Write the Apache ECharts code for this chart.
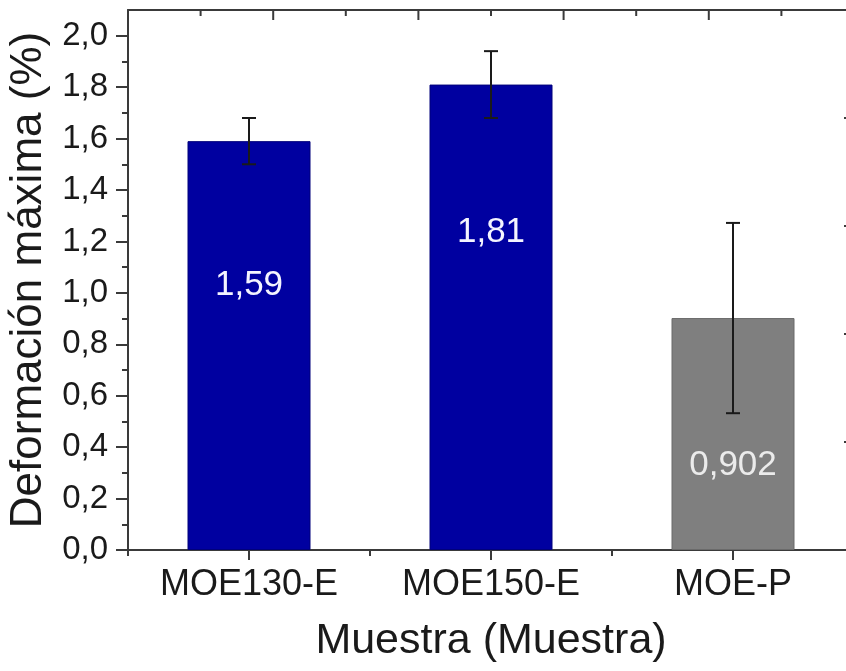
<!DOCTYPE html>
<html><head><meta charset="utf-8">
<script src="https://cdn.jsdelivr.net/npm/echarts@6/dist/echarts.min.js"></script>
<style>html,body{margin:0;padding:0;background:#fff}#c{width:846px;height:671px}</style>
</head><body><div id="c"></div>
<script>
var categories = ['MOE130-E', 'MOE150-E', 'MOE-P'];
var values = [1.59, 1.81, 0.902];
var errors = [0.09, 0.13, 0.37];
var valueLabels = ['1,59', '1,81', '0,902'];
var yTicks = [0, 0.2, 0.4, 0.6, 0.8, 1.0, 1.2, 1.4, 1.6, 1.8, 2.0];

var barColors = ['#0000A0', '#0000A0', '#7F7F7F'];
var labelColors = ['#F4F4FF', '#F4F4FF', '#EBEBEB'];
var labelOffsets = [-60, -85, 31];
var FONT = '"Liberation Sans", Arial, sans-serif';

var yMinor = [];
for (var i = 0; i < yTicks.length - 1; i++) yMinor.push(+((yTicks[i] + yTicks[i + 1]) / 2).toFixed(2));
var frameTicks = [0, 1, 2, 3, 4, 5];
var frameMinor = [0.5, 1.5, 2.5, 3.5, 4.5];
var topTickValues = frameTicks.concat(frameMinor);

var chart = echarts.init(document.getElementById('c'), null, {renderer: 'canvas'});
var axisCol = '#3a3a3a';
var gridBox = {left: 128, top: 10, width: 726, height: 540, containLabel: false, outerBoundsMode: 'none'};
var option = {
  animation: false,
  backgroundColor: '#fff',
  grid: [Object.assign({}, gridBox), Object.assign({}, gridBox), Object.assign({}, gridBox)],
  xAxis: [
    {
      gridIndex: 0, type: 'category', data: categories, position: 'bottom',
      axisLine: {show: true, onZero: false, lineStyle: {color: axisCol, width: 2}},
      axisTick: {show: true, alignWithLabel: true, length: 10, inside: false, lineStyle: {color: axisCol, width: 2}},
      axisLabel: {color: '#1a1a1a', fontSize: 36, fontFamily: FONT, margin: 17},
      name: 'Muestra (Muestra)', nameLocation: 'middle', nameGap: 70,
      nameTextStyle: {color: '#1a1a1a', fontSize: 43, fontFamily: FONT},
      splitLine: {show: false}
    },
    {
      gridIndex: 1, type: 'category', data: categories, position: 'top',
      axisLine: {show: true, onZero: false, lineStyle: {color: axisCol, width: 2}},
      axisTick: {show: false}, axisLabel: {show: false}, splitLine: {show: false}
    },
    {
      gridIndex: 1, type: 'category', data: categories, position: 'bottom',
      axisLine: {show: false, onZero: false},
      axisTick: {show: true, length: 6, lineStyle: {color: axisCol, width: 2}},
      axisLabel: {show: false}, splitLine: {show: false}
    },
    {
      gridIndex: 2, type: 'value', position: 'bottom', min: 0, max: 5, show: false
    }
  ],
  yAxis: [
    {
      gridIndex: 0, type: 'value', position: 'left', min: 0, max: 2.1,
      axisLine: {show: true, onZero: false, lineStyle: {color: axisCol, width: 2}},
      axisTick: {show: true, length: 12, customValues: yTicks, lineStyle: {color: axisCol, width: 2}},
      axisLabel: {
        customValues: yTicks, color: '#1a1a1a', fontSize: 33, fontFamily: FONT, margin: 20,
        formatter: function (v) { return v.toFixed(1).replace('.', ','); }
      },
      splitLine: {show: false},
      name: 'Deformación máxima (%)', nameLocation: 'middle', nameGap: 69, nameRotate: 90,
      nameTextStyle: {color: '#1a1a1a', fontSize: 44, fontFamily: FONT}
    },
    {
      gridIndex: 0, type: 'value', position: 'right', min: 0, max: 5,
      axisLine: {show: true, onZero: false, lineStyle: {color: axisCol, width: 2}},
      axisTick: {show: true, inside: true, length: 10, customValues: frameTicks, lineStyle: {color: axisCol, width: 2}},
      axisLabel: {show: false}, splitLine: {show: false}
    },
    {
      gridIndex: 1, type: 'value', position: 'left', min: 0, max: 2.1,
      axisLine: {show: false, onZero: false},
      axisTick: {show: true, length: 6, customValues: yMinor, lineStyle: {color: axisCol, width: 2}},
      axisLabel: {show: false}, splitLine: {show: false}
    },
    {
      gridIndex: 2, type: 'value', position: 'right', min: 0, max: 5,
      axisLine: {show: false, onZero: false},
      axisTick: {show: true, inside: true, length: 6, customValues: frameMinor, lineStyle: {color: axisCol, width: 2}},
      axisLabel: {show: false}, splitLine: {show: false}
    }
  ],
  series: [
    {
      type: 'bar', xAxisIndex: 0, yAxisIndex: 0, barWidth: 123,
      data: values.map(function (v, i) {
        return {
          value: v,
          itemStyle: {color: barColors[i], borderColor: i < 2 ? '#00007A' : '#6A6A6A', borderWidth: 1},
          label: {
            show: true, position: 'inside', offset: [0, labelOffsets[i]],
            formatter: valueLabels[i], color: labelColors[i], fontSize: 35, fontFamily: FONT
          }
        };
      })
    },
    {
      type: 'custom', xAxisIndex: 0, yAxisIndex: 0, z: 5,
      data: values.map(function (v, i) { return [i, v - errors[i], v + errors[i]]; }),
      renderItem: function (params, api) {
        var lo = api.coord([api.value(0), api.value(1)]);
        var hi = api.coord([api.value(0), api.value(2)]);
        var hw = 7;
        var st = {stroke: '#1a1a1a', lineWidth: 2};
        return {
          type: 'group',
          children: [
            {type: 'line', shape: {x1: hi[0], y1: hi[1], x2: lo[0], y2: lo[1]}, style: st},
            {type: 'line', shape: {x1: hi[0] - hw, y1: hi[1], x2: hi[0] + hw, y2: hi[1]}, style: st},
            {type: 'line', shape: {x1: lo[0] - hw, y1: lo[1], x2: lo[0] + hw, y2: lo[1]}, style: st}
          ]
        };
      }
    },
    {
      type: 'custom', xAxisIndex: 3, yAxisIndex: 3, z: 6, silent: true,
      data: topTickValues.map(function (v) { return [v, 5]; }),
      renderItem: function (params, api) {
        var v = api.value(0);
        var p = api.coord([v, api.value(1)]);
        var len = (Math.abs(v - Math.round(v)) < 1e-9) ? 10 : 6;
        return {
          type: 'line',
          shape: {x1: p[0], y1: p[1], x2: p[0], y2: p[1] + len},
          style: {stroke: axisCol, lineWidth: 2}
        };
      }
    }
  ]
};
chart.setOption(option);
</script>
</body></html>
